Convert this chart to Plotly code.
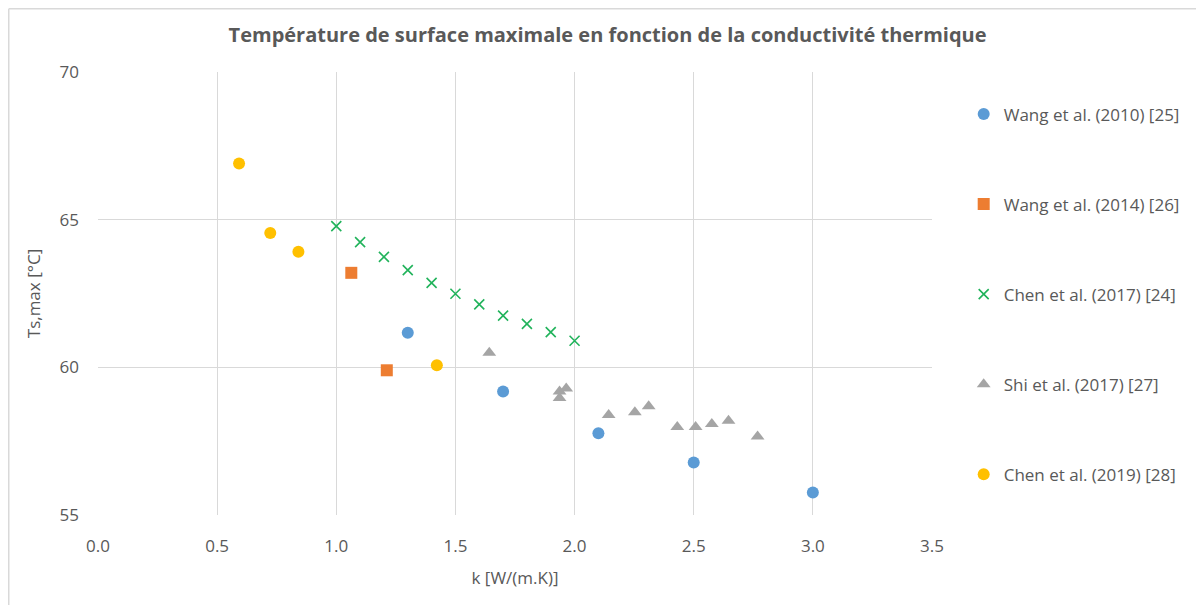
import plotly.graph_objects as go

# Ts,max as a function of thermal conductivity k, per study

wang2010_k = [1.3, 1.7, 2.1, 2.5, 3.0]
wang2010_t = [61.17, 59.18, 57.77, 56.78, 55.76]

wang2014_k = [1.063, 1.212]
wang2014_t = [63.2, 59.9]

chen2017_k = [1.0, 1.1, 1.2, 1.3, 1.4, 1.5, 1.6, 1.7, 1.8, 1.9, 2.0]
chen2017_t = [64.78, 64.24, 63.74, 63.29, 62.86, 62.49, 62.13, 61.75, 61.47, 61.19, 60.9]

shi2017_k = [1.642, 1.937, 1.937, 1.965, 2.143, 2.253, 2.311, 2.431, 2.508, 2.576, 2.646, 2.768]
shi2017_t = [60.49, 58.96, 59.18, 59.28, 58.39, 58.48, 58.68, 57.98, 57.98, 58.08, 58.19, 57.66]

chen2019_k = [0.592, 0.723, 0.841, 1.422]
chen2019_t = [66.9, 64.55, 63.91, 60.07]

series = [
    ("Wang et al. (2010) [25]", wang2010_k, wang2010_t, "circle", "#5B9BD5", 12),
    ("Wang et al. (2014) [26]", wang2014_k, wang2014_t, "square", "#ED7D31", 12),
    ("Chen et al. (2017) [24]", chen2017_k, chen2017_t, "x-thin", "#21B35B", 10),
    ("Shi et al. (2017) [27]", shi2017_k, shi2017_t, "triangle-up", "#A5A5A5", 12),
    ("Chen et al. (2019) [28]", chen2019_k, chen2019_t, "circle", "#FFC000", 12),
]

text_color = "#595959"
grid_color = "#D9D9D9"

fig = go.Figure()

for name, k, t, symbol, color, size in series:
    marker = dict(symbol=symbol, color=color, size=size)
    if symbol == "x-thin":
        marker["line"] = dict(color=color, width=1.6)
    fig.add_trace(go.Scatter(x=k, y=t, mode="markers", name=name,
                             legendgroup=name, marker=marker))

fig.update_layout(
    width=1204, height=605,
    margin=dict(l=90, r=280, t=64, b=98),
    paper_bgcolor="white", plot_bgcolor="white",
    font=dict(family="Open Sans", color=text_color, size=17),
    title=dict(text="<b>Température de surface maximale en fonction de la conductivité thermique</b>",
               x=0.498, xanchor="center", y=0.955, yanchor="middle",
               font=dict(size=20, color=text_color)),
    legend=dict(x=1.038, xanchor="left", y=0.945, yanchor="top",
                tracegroupgap=65, font=dict(size=17, color=text_color),
                itemwidth=30),
    showlegend=True,
)

fig.update_xaxes(range=[0, 3.5], dtick=0.5, tick0=0, tickformat=".1f",
                 showgrid=True, gridcolor=grid_color, gridwidth=1,
                 zeroline=False, showline=False, ticks="",
                 ticklabelstandoff=19,
                 tickfont=dict(size=17, color=text_color),
                 title=dict(text="k [W/(m.K)]", standoff=16,
                            font=dict(size=17, color=text_color)))
fig.update_yaxes(range=[55, 70], dtick=5, tick0=55,
                 showgrid=True, gridcolor=grid_color, gridwidth=1,
                 zeroline=False, showline=False, ticks="",
                 ticklabelstandoff=18,
                 tickfont=dict(size=17, color=text_color),
                 title=dict(text="Ts,max [°C]", standoff=14,
                            font=dict(size=17, color=text_color)))

# light border of the chart box (top and left edges visible)
fig.add_shape(type="line", xref="paper", yref="paper",
              x0=-0.107, x1=1.4, y0=1.143, y1=1.143,
              line=dict(color="#D9D9D9", width=1.5))
fig.add_shape(type="line", xref="paper", yref="paper",
              x0=-0.107, x1=-0.107, y0=1.143, y1=-0.3,
              line=dict(color="#D9D9D9", width=1.5))

fig.write_html("out.html")
